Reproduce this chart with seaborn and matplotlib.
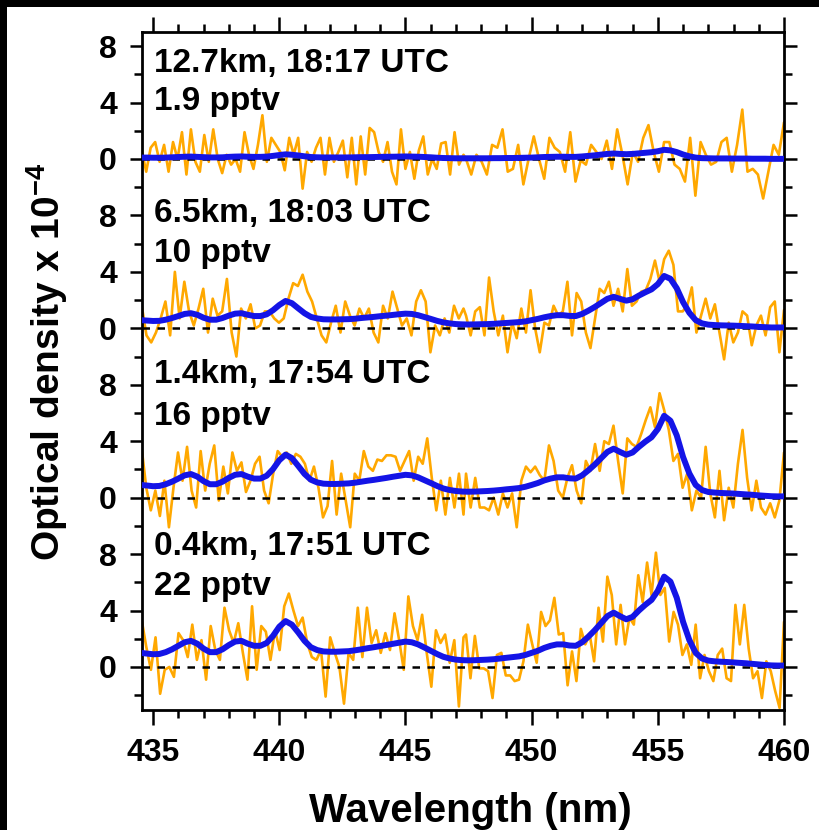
import numpy as np
import pandas as pd
import matplotlib
matplotlib.use("Agg")
import matplotlib.pyplot as plt
from matplotlib.ticker import FixedLocator, FuncFormatter, MultipleLocator
from matplotlib.patches import Rectangle
import seaborn as sns

# ---------------- data ----------------
panel_labels = ["12.7km, 18:17 UTC", "6.5km, 18:03 UTC", "1.4km, 17:54 UTC", "0.4km, 17:51 UTC"]
panel_conc = ["1.9 pptv", "10 pptv", "16 pptv", "22 pptv"]

# fitted (blue) curves, 434.5 .. 460.0 nm, step 0.25 nm
fit_p1 = [0.10, 0.10, 0.09, 0.09, 0.10, 0.12, 0.14, 0.16, 0.17, 0.15,
          0.13, 0.11, 0.11, 0.12, 0.15, 0.17, 0.18, 0.16, 0.15, 0.15,
          0.17, 0.22, 0.28, 0.33, 0.30, 0.25, 0.19, 0.14, 0.12, 0.11,
          0.11, 0.11, 0.11, 0.11, 0.12, 0.13, 0.13, 0.14, 0.15, 0.16,
          0.16, 0.17, 0.18, 0.17, 0.16, 0.14, 0.12, 0.09, 0.07, 0.06,
          0.05, 0.05, 0.05, 0.05, 0.05, 0.05, 0.06, 0.06, 0.07, 0.07,
          0.08, 0.09, 0.10, 0.12, 0.14, 0.15, 0.16, 0.16, 0.15, 0.15,
          0.18, 0.22, 0.26, 0.31, 0.36, 0.39, 0.36, 0.34, 0.36, 0.40,
          0.44, 0.48, 0.55, 0.65, 0.61, 0.49, 0.32, 0.19, 0.10, 0.06,
          0.05, 0.04, 0.04, 0.04, 0.03, 0.03, 0.03, 0.02, 0.02, 0.02,
          0.01, 0.01, 0.01]
fit_p2 = [0.58, 0.55, 0.52, 0.53, 0.61, 0.73, 0.87, 1.02, 1.07, 0.96,
          0.75, 0.61, 0.61, 0.73, 0.90, 1.04, 1.07, 0.96, 0.87, 0.87,
          0.99, 1.28, 1.65, 1.94, 1.78, 1.42, 1.07, 0.81, 0.70, 0.64,
          0.63, 0.63, 0.64, 0.65, 0.68, 0.73, 0.77, 0.81, 0.86, 0.90,
          0.95, 1.00, 1.04, 1.02, 0.93, 0.80, 0.67, 0.53, 0.42, 0.35,
          0.30, 0.28, 0.27, 0.28, 0.29, 0.30, 0.32, 0.35, 0.38, 0.41,
          0.44, 0.49, 0.58, 0.67, 0.78, 0.87, 0.93, 0.93, 0.88, 0.87,
          1.02, 1.25, 1.51, 1.80, 2.09, 2.23, 2.09, 1.96, 2.06, 2.32,
          2.55, 2.76, 3.13, 3.71, 3.51, 2.84, 1.86, 1.10, 0.58, 0.35,
          0.26, 0.23, 0.21, 0.20, 0.19, 0.17, 0.15, 0.13, 0.10, 0.08,
          0.06, 0.06, 0.06]
fit_p3 = [0.90, 0.86, 0.81, 0.83, 0.95, 1.13, 1.35, 1.58, 1.67, 1.49,
          1.17, 0.95, 0.95, 1.13, 1.40, 1.62, 1.67, 1.49, 1.35, 1.35,
          1.55, 2.02, 2.65, 3.05, 2.80, 2.25, 1.68, 1.27, 1.08, 0.99,
          0.97, 0.97, 0.99, 1.01, 1.06, 1.13, 1.20, 1.26, 1.33, 1.40,
          1.48, 1.55, 1.62, 1.58, 1.44, 1.24, 1.04, 0.83, 0.65, 0.54,
          0.47, 0.43, 0.42, 0.43, 0.45, 0.47, 0.50, 0.54, 0.59, 0.63,
          0.68, 0.77, 0.90, 1.04, 1.22, 1.35, 1.44, 1.44, 1.37, 1.35,
          1.58, 1.94, 2.34, 2.79, 3.24, 3.47, 3.24, 3.04, 3.20, 3.60,
          3.96, 4.28, 4.86, 5.80, 5.45, 4.41, 2.88, 1.71, 0.90, 0.54,
          0.40, 0.36, 0.33, 0.31, 0.29, 0.26, 0.23, 0.20, 0.16, 0.13,
          0.10, 0.09, 0.09]
fit_p4 = [1.00, 0.95, 0.90, 0.92, 1.05, 1.25, 1.50, 1.75, 1.85, 1.65,
          1.30, 1.05, 1.05, 1.25, 1.55, 1.80, 1.85, 1.65, 1.50, 1.50,
          1.70, 2.20, 2.85, 3.25, 3.00, 2.45, 1.85, 1.40, 1.20, 1.10,
          1.08, 1.08, 1.10, 1.12, 1.18, 1.25, 1.33, 1.40, 1.48, 1.56,
          1.64, 1.72, 1.80, 1.75, 1.60, 1.38, 1.15, 0.92, 0.72, 0.60,
          0.52, 0.48, 0.47, 0.48, 0.50, 0.52, 0.55, 0.60, 0.65, 0.70,
          0.75, 0.85, 1.00, 1.15, 1.35, 1.50, 1.60, 1.60, 1.52, 1.50,
          1.75, 2.15, 2.60, 3.10, 3.60, 3.85, 3.60, 3.38, 3.55, 4.00,
          4.40, 4.75, 5.40, 6.40, 6.05, 4.90, 3.20, 1.90, 1.00, 0.60,
          0.45, 0.40, 0.37, 0.35, 0.32, 0.29, 0.26, 0.22, 0.18, 0.14,
          0.11, 0.10, 0.10]

# measured (orange) spectra, split into the 434.55-447.3 nm and 447.4-460 nm halves
meas_p1_a = [0.6, -0.9, 0.8, 1.2, -0.2, 1.0, -0.9, 1.2, 0.0, 1.9,
             -1.1, 2.1, -0.2, -0.9, 1.7, -0.2, 2.1, 0.0, -1.0, 0.3,
             -0.4, 0.0, -0.9, 1.9, 0.3, -0.7, 1.0, 3.1, -0.2, 1.5,
             1.0, 0.5, -0.8, 1.5, 0.3, 1.5, -2.1, 0.5, -0.2, 0.8,
             1.5, -1.1, 1.5, -0.2, 0.5, 1.3, -1.3, 1.5, -1.8, 1.6,
             -1.1, 2.2, 1.9, 0.5, -0.2, 1.2, -0.9, -1.8, 2.1, -0.7,
             0.5, -1.4, 0.6, 1.6, -1.1, 0.0, -0.7, 1.1, 1.2, -1.1,
             1.9, -0.4, 0.3]
meas_p1_b = [0.0, -1.1, 0.3, -0.2, -1.1, 1.0, 0.8, 2.1, -0.9, -0.7,
             1.0, -1.8, 0.0, 1.6, 0.0, -1.4, 1.5, 0.8, 0.5, -0.9,
             1.9, -1.6, -0.1, -0.4, 1.0, 0.5, 0.0, 1.3, -0.7, 2.1,
             0.3, -1.8, 0.5, -0.2, 1.5, 2.4, 0.5, -0.9, 1.2, 1.2,
             -0.4, -0.7, -1.6, 1.5, -2.6, 1.2, 0.3, -0.4, -0.2, 1.2,
             1.5, -0.9, 1.0, 3.5, -0.9, -0.7, -1.1, -2.8, -0.9, 1.0,
             0.3, 2.6]
meas_p2_a = [1.6, -0.5, -1.0, -0.3, 0.7, 1.9, -0.5, 4.0, 0.7, 3.3,
             1.2, 0.2, 1.4, 2.8, -0.3, 2.1, 0.9, 1.2, 3.5, -0.3,
             -2.0, 1.4, 0.7, 1.7, 0.0, 0.2, 1.2, 1.2, 0.7, 0.4,
             0.7, 2.1, 3.2, 3.0, 3.8, 2.6, 1.9, 0.7, -0.5, -1.0,
             0.4, 1.6, -0.3, 1.9, 0.9, 0.2, 1.4, 0.7, 1.4, -0.3,
             -1.0, 1.6, 0.7, 2.6, 1.4, 0.2, 0.7, -0.5, 1.9, 2.7,
             1.9, -1.7, 0.2, -0.5, 0.7, -0.3, 1.6, 0.7, 1.4]
meas_p2_b = [0.9, -0.5, 1.2, 1.5, -0.5, 3.6, 1.2, -0.5, 0.9, -1.7,
             0.4, -0.7, 1.4, -0.3, 2.7, 0.0, -1.7, 0.4, 0.2, 1.6,
             0.9, 1.2, 3.3, -0.5, 2.5, 1.9, -0.3, -1.4, 0.7, 2.8,
             2.5, 3.3, 1.6, 2.8, 1.2, 4.2, 1.6, 1.9, 2.6, 2.7,
             3.5, 4.8, 3.3, 4.9, 5.5, 4.5, 1.2, 1.2, 1.6, 2.9,
             -0.3, 0.9, 2.1, 0.7, 1.7, -0.3, -2.2, 0.4, -1.0, -0.3,
             1.2, 0.9, -1.2, 0.2, 0.9, -0.5, 1.5, 1.9, -1.7, 1.3]
meas_p3_a = [3.45, 0.7, -0.9, 0.5, -1.3, 1.2, -2.1, 0.7, 3.2, 1.2,
             3.6, 0.5, -0.7, 3.3, 0.5, 2.4, 3.7, -0.2, 2.2, 0.3,
             3.2, 1.9, 2.5, 0.4, 1.2, 2.4, 2.9, 0.5, -0.4, 1.7,
             3.3, 2.9, 3.2, 2.4, 3.1, 2.9, 2.4, 1.2, 2.2, 0.7,
             -1.4, -0.6, 2.6, -1.2, 1.7, -0.2, -2.1, 1.7, 1.2, 3.3,
             2.2, 1.9, 2.7, 2.6, 3.0, 3.0, 2.9, 1.9, 2.6, 3.3,
             1.2, 2.9, 2.4, 4.2, 1.4, -0.9, 1.2, -1.2, 1.4, -0.7,
             1.7, -1.2]
meas_p3_b = [1.7, -0.7, 1.4, -0.7, -0.7, -0.9, 0.0, -1.2, 0.3, -0.7,
             0.3, -2.1, 1.2, 2.2, 1.8, 2.2, 1.6, 1.2, 3.7, 2.6,
             0.5, 0.0, 1.4, 2.3, 0.5, -0.4, 2.6, 1.9, 3.8, 1.9,
             4.0, 3.8, 5.1, 2.6, 0.3, 4.2, 3.8, 3.6, 4.5, 5.5,
             6.4, 5.0, 7.4, 6.2, 4.8, 2.6, 3.1, 0.7, 1.7, -0.9,
             0.5, 0.0, 3.6, 0.3, -1.4, 1.9, -1.6, 0.7, -0.7, 2.4,
             4.8, 1.4, -0.9, 1.2, -0.7, -1.2, -0.4, -1.4, -0.2, 3.2]
meas_p4_a = [3.3, 1.4, -0.2, 2.1, -1.9, -0.2, 0.0, -0.7, 2.4, 1.9,
             0.7, 3.0, 0.5, 1.9, -0.9, 2.9, 1.2, 0.5, 4.2, 2.6,
             1.7, 3.1, 1.0, -0.9, 4.3, -0.2, 2.9, 2.5, 0.5, 2.6,
             1.2, 4.3, 5.2, 4.0, 2.9, 3.5, 1.7, 0.7, 0.5, 1.2,
             -2.1, 2.1, 1.0, 0.0, -2.6, 1.0, 0.5, 4.2, 0.7, 4.2,
             1.7, 2.6, 1.0, 2.4, 1.2, 3.8, 1.9, -0.2, 5.0, 2.9,
             1.9, 3.7, 1.0, -1.4, 2.6, 1.7, 2.3, 0.3, 1.9, -2.8,
             2.1]
meas_p4_b = [2.3, -0.8, 2.2, -0.1, -0.1, -0.3, -2.2, 0.85, 1.0, -0.6,
             -0.6, -1.0, -0.9, 0.4, 3.0, 1.6, 0.3, 3.9, 2.9, 3.3,
             4.9, 2.3, 2.4, -1.3, 1.1, -1.0, 2.7, 1.6, 2.3, 0.4,
             4.2, 1.8, 6.4, 5.1, 1.6, 4.4, 1.6, 3.5, 3.0, 6.5,
             4.6, 7.4, 5.1, 8.1, 5.1, 5.6, 1.8, 3.9, 3.0, 0.85,
             1.6, 0.15, 3.0, -0.8, 0.85, -0.3, -1.0, 0.85, 1.3, -0.8,
             -1.0, 4.4, 1.6, 4.4, 1.3, -0.8, -0.3, -2.2, 0.4, -0.3,
             -1.7, -2.9, 3.2]

fits = [fit_p1, fit_p2, fit_p3, fit_p4]
meas = [(meas_p1_a, meas_p1_b), (meas_p2_a, meas_p2_b),
        (meas_p3_a, meas_p3_b), (meas_p4_a, meas_p4_b)]

# ---------------- style ----------------
sns.set_theme(style="ticks")
plt.rcParams['font.family'] = ['Liberation Sans', 'DejaVu Sans']
plt.rcParams['font.weight'] = 'bold'
plt.rcParams['text.color'] = 'black'
plt.rcParams['axes.labelcolor'] = 'black'
plt.rcParams['xtick.color'] = 'black'
plt.rcParams['ytick.color'] = 'black'
plt.rcParams['xtick.labelcolor'] = 'black'
plt.rcParams['ytick.labelcolor'] = 'black'
plt.rcParams['axes.edgecolor'] = 'black'
plt.rcParams['mathtext.fontset'] = 'custom'
plt.rcParams['mathtext.rm'] = 'Liberation Sans:bold'
plt.rcParams['mathtext.bf'] = 'Liberation Sans:bold'
plt.rcParams['mathtext.default'] = 'bf'

W, H = 819, 830
fig = plt.figure(figsize=(W / 100, H / 100), dpi=100)
fig.patch.set_facecolor('black')
fig.add_artist(Rectangle((7 / W, 0), 1, 1 - 7 / H, transform=fig.transFigure,
                         facecolor='white', edgecolor='none', zorder=-10))

ax = fig.add_axes([142 / W, 1 - 710 / H, (784 - 142) / W, (710 - 32) / H])
ax.set_facecolor('white')

offsets = [36, 24, 12, 0]

rows_o, rows_f = [], []
for i, (off, f, (ma, mb)) in enumerate(zip(offsets, fits, meas)):
    wl_f = np.linspace(434.5, 460.0, len(f))
    for w, v in zip(wl_f, f):
        rows_f.append((i, w, v + off))
    wl_a = np.linspace(434.55, 447.3, len(ma))
    wl_b = np.linspace(447.4, 460.0, len(mb))
    for w, v in zip(np.concatenate([wl_a, wl_b]), list(ma) + list(mb)):
        rows_o.append((i, w, v + off))

df_o = pd.DataFrame(rows_o, columns=['panel', 'wl', 'od'])
df_f = pd.DataFrame(rows_f, columns=['panel', 'wl', 'od'])

sns.lineplot(data=df_o, x='wl', y='od', units='panel', estimator=None,
             color='#FFA800', lw=1.9, ax=ax, zorder=2)
for off in offsets:
    ax.axhline(off, color='black', lw=1.8, ls=(0, (3, 3)), zorder=2.5)
sns.lineplot(data=df_f, x='wl', y='od', units='panel', estimator=None,
             color='#1414E6', lw=4.3, ax=ax, zorder=3)

ax.set_xlim(434.56, 460.0)
ax.set_ylim(-3.05, 45)

# y ticks
ax.yaxis.set_major_locator(FixedLocator(list(range(0, 45, 4))))
ax.yaxis.set_minor_locator(FixedLocator(list(range(-2, 44, 4))))
ax.yaxis.set_major_formatter(FuncFormatter(lambda v, p: str(int(round(v)) % 12)))
ax.tick_params(axis='y', which='both', left=True, right=True, labelleft=True,
               labelright=False, direction='out', colors='black')
ax.tick_params(axis='y', which='major', length=9, width=1.8, labelsize=23, pad=9)
ax.tick_params(axis='y', which='minor', length=6, width=1.8)

# x ticks
ax.xaxis.set_major_locator(MultipleLocator(5))
ax.xaxis.set_minor_locator(MultipleLocator(1))
ax.tick_params(axis='x', which='both', bottom=True, top=True, labelbottom=True,
               labeltop=False, direction='out', colors='black')
ax.tick_params(axis='x', which='major', length=11, width=1.8, labelsize=23, pad=9)
ax.tick_params(axis='x', which='minor', length=6, width=1.8)

for sp in ax.spines.values():
    sp.set_visible(True)
    sp.set_linewidth(2)
    sp.set_color('black')

ax.set_xlabel('')
ax.set_ylabel('')

# annotations
text_y = [(42.17, 39.47), (31.54, 28.70), (20.13, 17.15), (7.94, 5.12)]
for (y1, y2), lab, conc in zip(text_y, panel_labels, panel_conc):
    ax.text(435.05, y1, lab, fontsize=24, fontweight='bold', va='baseline',
            ha='left', color='black')
    ax.text(435.05, y2, conc, fontsize=24, fontweight='bold', va='baseline',
            ha='left', color='black')

fig.text(47 / W, 1 - 362 / H, r'Optical density x 10$^{-4}$', rotation=90,
         ha='center', va='center', fontsize=28, fontweight='bold', color='black')
fig.text(470 / W, 1 - 822 / H, 'Wavelength (nm)', ha='center', va='baseline',
         fontsize=29, fontweight='bold', color='black')

fig.savefig('out.png', dpi=100, facecolor=fig.get_facecolor())
